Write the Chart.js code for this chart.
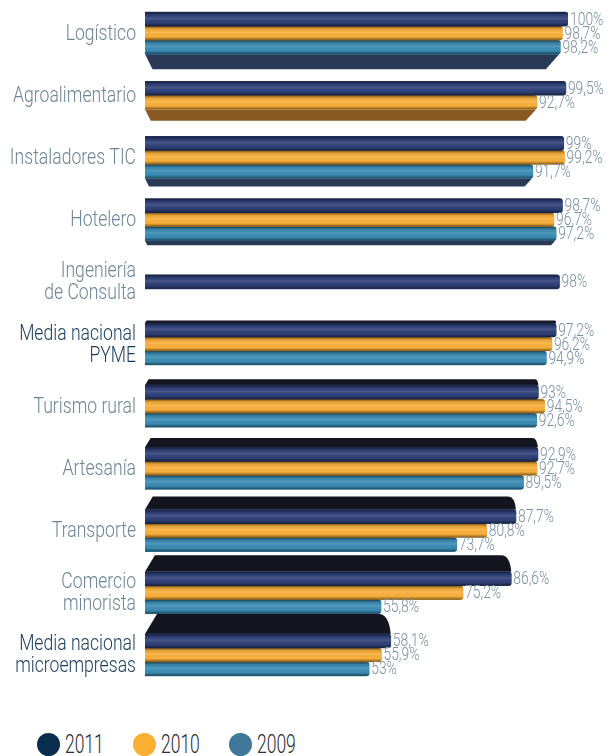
<!DOCTYPE html>
<html lang="es">
<head>
<meta charset="utf-8">
<title>Uso de Internet por sector</title>
<script src="https://cdn.jsdelivr.net/npm/chart.js@4.4.1/dist/chart.umd.min.js"></script>
<style>
    html, body { margin: 0; padding: 0; background: #fff; }
    .chart-wrap { position: relative; width: 610px; height: 690px; }
    .legend {
        display: flex; align-items: center; height: 23px; line-height: 23px;
        margin: 43px 0 0 37px;
        font: 300 25px Roboto, 'Open Sans', sans-serif;
        color: #2b2b2b;
    }
    .legend-item { display: flex; align-items: center; margin-right: 31px; }
    .legend-dot { width: 23px; height: 23px; border-radius: 50%; margin-right: 5px; }
    .legend-text { display: inline-block; width: 37px; white-space: nowrap; transform: scaleX(0.7); transform-origin: left center; }
</style>
</head>
<body>
<div class="chart-wrap"><canvas id="chart"></canvas></div>
<div class="legend" id="legend"></div>
<script>
/* global Chart */
const categories = [
    'Logístico',
    'Agroalimentario',
    'Instaladores TIC',
    'Hotelero',
    ['Ingeniería', 'de Consulta'],
    ['Media nacional', 'PYME'],
    'Turismo rural',
    'Artesanía',
    'Transporte',
    ['Comercio', 'minorista'],
    ['Media nacional', 'microempresas'],
];
const seriesLabels = ['2011', '2010', '2009'];
const values2011 = [100, 99.5, 99, 98.7, 98, 97.2, 93, 92.9, 87.7, 86.6, 58.1];
const values2010 = [98.7, 92.7, 99.2, 96.7, null, 96.2, 94.5, 92.7, 80.8, 75.2, 55.9];
const values2009 = [98.2, null, 91.7, 97.2, null, 94.9, 92.6, 89.5, 73.7, 55.8, 53];
const highlightedRows = [5, 10]; // the two "Media nacional" rows

(function () {
    const FONT = 'Roboto, "Open Sans", sans-serif';
    const barColors = ['#2f4179', '#fbb03b', '#3b8db6'];
    const faceColors = ['#15151f', '#8a5823', '#2a3a56'];
    const legendColors = ['#0b2d4e', '#fbb034', '#3f7899'];
    const labelGray = '#6e8596';
    const labelDark = '#173a5c';

    function fmtPct(v) {
        return String(v).replace('.', ',') + '%';
    }

    // no narrow face is installed, so squeeze the text horizontally
    function narrowText(ctx, text, x, y, sx) {
        ctx.save();
        ctx.translate(x, y);
        ctx.scale(sx, 1);
        ctx.fillText(text, 0, 0);
        ctx.restore();
    }

    function barsOf(chart, index) {
        const out = [];
        chart.data.datasets.forEach((ds, di) => {
            const el = chart.getDatasetMeta(di).data[index];
            if (ds.data[index] == null || !el) return;
            out.push({ di, p: el.getProps(['x', 'y', 'base', 'height'], true) });
        });
        return out;
    }

    // perspective faces: under the rows at the top, over the rows at the bottom
    const facePlugin = {
        id: 'faces',
        beforeDatasetsDraw(chart) {
            const ctx = chart.ctx;
            const n = chart.data.labels.length;
            for (let i = 0; i < n; i++) {
                const bars = barsOf(chart, i);
                if (!bars.length) continue;
                const depth = 3.5 * (i - 4.3);
                if (Math.abs(depth) < 1.5) continue;
                const d = Math.abs(depth);
                ctx.save();
                ctx.beginPath();
                if (depth < 0) {
                    const b = bars[bars.length - 1];
                    const y0 = b.p.y + b.p.height / 2;
                    ctx.moveTo(b.p.base, y0);
                    ctx.lineTo(b.p.x - 1, y0);
                    ctx.lineTo(b.p.x - 1 - d * 0.9, y0 + d);
                    ctx.lineTo(b.p.base + d * 0.5, y0 + d);
                    ctx.fillStyle = faceColors[b.di];
                } else {
                    const b = bars[0];
                    const y0 = b.p.y - b.p.height / 2;
                    ctx.moveTo(b.p.base, y0);
                    ctx.lineTo(b.p.x, y0);
                    ctx.quadraticCurveTo(b.p.x - d * 0.1, y0 - d, b.p.x - d * 0.6, y0 - d);
                    ctx.lineTo(b.p.base + d * 0.6, y0 - d);
                    ctx.fillStyle = faceColors[b.di];
                }
                ctx.closePath();
                ctx.fill();
                ctx.restore();
            }
        },
    };

    // cylinder-like shading, value labels and category labels
    const shadePlugin = {
        id: 'shade',
        afterDatasetsDraw(chart) {
            const ctx = chart.ctx;
            chart.data.datasets.forEach((ds, di) => {
                chart.getDatasetMeta(di).data.forEach((el, i) => {
                    if (ds.data[i] == null) return;
                    const p = el.getProps(['x', 'y', 'base', 'height'], true);
                    const top = p.y - p.height / 2;
                    const g = ctx.createLinearGradient(0, top, 0, top + p.height);
                    g.addColorStop(0, 'rgba(0,0,0,0.55)');
                    g.addColorStop(0.2, 'rgba(0,0,0,0.08)');
                    g.addColorStop(0.45, 'rgba(255,255,255,0.12)');
                    g.addColorStop(0.75, 'rgba(0,0,0,0)');
                    g.addColorStop(1, 'rgba(0,0,0,0.5)');
                    ctx.save();
                    ctx.fillStyle = g;
                    ctx.beginPath();
                    ctx.roundRect(p.base, top, p.x - p.base, p.height, [0, 3, 3, 0]);
                    ctx.fill();
                    ctx.restore();
                });
            });

            ctx.save();
            ctx.font = '300 18px ' + FONT;
            ctx.fillStyle = '#7a90a1';
            ctx.textAlign = 'left';
            ctx.textBaseline = 'middle';
            chart.data.datasets.forEach((ds, di) => {
                chart.getDatasetMeta(di).data.forEach((el, i) => {
                    if (ds.data[i] == null) return;
                    const p = el.getProps(['x', 'y'], true);
                    narrowText(ctx, fmtPct(ds.data[i]), p.x + 2, p.y + 1, 0.77);
                });
            });
            ctx.restore();

            const yScale = chart.scales.y;
            const right = chart.chartArea.left - 9;
            ctx.save();
            ctx.font = '300 22px ' + FONT;
            ctx.textAlign = 'right';
            ctx.textBaseline = 'middle';
            chart.data.labels.forEach((label, i) => {
                const lines = Array.isArray(label) ? label : [label];
                const cy = yScale.getPixelForTick(i);
                const lh = 22;
                ctx.fillStyle = highlightedRows.includes(i) ? labelDark : labelGray;
                lines.forEach((line, k) => {
                    const y = cy + (k - (lines.length - 1) / 2) * lh + 1;
                    narrowText(ctx, line, right, y, 0.8);
                });
            });
            ctx.restore();
        },
    };

    function buildLegend(root) {
        seriesLabels.forEach((label, i) => {
            const item = document.createElement('span');
            item.className = 'legend-item';
            const dot = document.createElement('span');
            dot.className = 'legend-dot';
            dot.style.background = legendColors[i];
            const txt = document.createElement('span');
            txt.className = 'legend-text';
            txt.textContent = label;
            item.appendChild(dot);
            item.appendChild(txt);
            root.appendChild(item);
        });
    }

    const seriesValues = [values2011, values2010, values2009];

    new Chart(document.getElementById('chart').getContext('2d'), {
        type: 'bar',
        data: {
            labels: categories,
            datasets: seriesLabels.map((label, i) => ({
                label,
                data: seriesValues[i],
                backgroundColor: barColors[i],
                borderWidth: 0,
                borderRadius: 3,
                borderSkipped: 'start',
                barThickness: 14,
                skipNull: true,
            })),
        },
        options: {
            indexAxis: 'y',
            responsive: true,
            maintainAspectRatio: false,
            animation: false,
            layout: { padding: { top: 2, bottom: 4, left: 0, right: 42 } },
            plugins: {
                legend: { display: false },
                tooltip: { enabled: false },
            },
            scales: {
                x: { display: false, min: 0, max: 100 },
                y: {
                    grid: { display: false, drawTicks: false },
                    border: { display: false },
                    ticks: { display: false },
                    afterFit: (scale) => { scale.width = 145; },
                },
            },
        },
        plugins: [facePlugin, shadePlugin],
    });

    buildLegend(document.getElementById('legend'));
})();
</script>
</body>
</html>
